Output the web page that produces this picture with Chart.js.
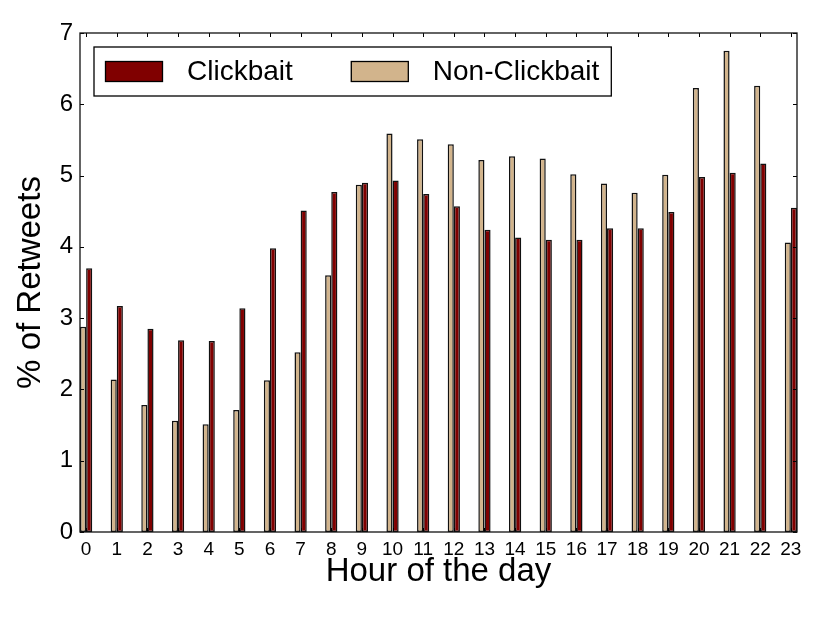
<!DOCTYPE html>
<html>
<head>
<meta charset="utf-8">
<script src="https://cdn.jsdelivr.net/npm/chart.js@4"></script>
<style>
  html, body { margin: 0; padding: 0; background: #fff; }
  #wrap { width: 822px; height: 617px; }
</style>
</head>
<body>
<div id="wrap"><canvas id="retweetChart" width="822" height="617"></canvas></div>
<script>
// --- Data ---
const hours = [0, 1, 2, 3, 4, 5, 6, 7, 8, 9, 10, 11, 12, 13, 14, 15, 16, 17, 18, 19, 20, 21, 22, 23];
const clickbait = [3.70, 3.17, 2.85, 2.69, 2.68, 3.14, 3.98, 4.51, 4.77, 4.90, 4.93, 4.74,
                   4.57, 4.24, 4.13, 4.10, 4.10, 4.26, 4.26, 4.49, 4.98, 5.04, 5.17, 4.55];
const nonClickbait = [2.88, 2.14, 1.78, 1.56, 1.51, 1.71, 2.13, 2.52, 3.60, 4.87, 5.59, 5.51,
                      5.44, 5.22, 5.27, 5.24, 5.02, 4.89, 4.76, 5.01, 6.23, 6.75, 6.26, 4.06];
const yTicks = [0, 1, 2, 3, 4, 5, 6, 7];

const FONT = "'Liberation Sans', Arial, Helvetica, sans-serif";
const RED = '#800000';
const TAN = '#d2b48c';

// matplotlib-like frame, inward ticks and in-plot legend
const framePlugin = {
    id: 'frame',
    afterDatasetsDraw(chart) {
        const { ctx, chartArea: a, scales } = chart;
        ctx.save();
        ctx.strokeStyle = '#000';
        ctx.lineWidth = 1;
        const len = 4;
        ctx.beginPath();
        hours.forEach(h => {
            const px = Math.round(scales.x.getPixelForValue(h)) + 0.5;
            ctx.moveTo(px, a.bottom); ctx.lineTo(px, a.bottom - len);
            ctx.moveTo(px, a.top); ctx.lineTo(px, a.top + len);
        });
        yTicks.forEach(v => {
            const py = Math.round(scales.y.getPixelForValue(v)) + 0.5;
            ctx.moveTo(a.left, py); ctx.lineTo(a.left + len, py);
            ctx.moveTo(a.right, py); ctx.lineTo(a.right - len, py);
        });
        ctx.stroke();

        // frame
        ctx.lineWidth = 1.3;
        ctx.strokeStyle = '#111';
        ctx.strokeRect(a.left, a.top, a.right - a.left, a.bottom - a.top);

        // legend (Clickbait first, like the figure)
        const items = chart.data.datasets.slice().reverse();
        ctx.font = '28px ' + FONT;
        const boxX = a.left + 14, boxY = a.top + 14;
        const swW = 58, swH = 21, padL = 11, gapText = 24, gapCol = 58, padR = 12, boxH = 49;
        let x = boxX + padL;
        const midY = boxY + boxH / 2;
        items.forEach((ds, i) => {
            ctx.fillStyle = ds.backgroundColor;
            ctx.fillRect(x, midY - swH / 2, swW, swH);
            ctx.lineWidth = 1.3;
            ctx.strokeStyle = '#000';
            ctx.strokeRect(x + 0.5, midY - swH / 2 + 0.5, swW - 1, swH - 1);
            x += swW + gapText;
            ctx.fillStyle = '#000';
            ctx.textBaseline = 'middle';
            ctx.textAlign = 'left';
            ctx.fillText(ds.label, x, midY + 1);
            x += ctx.measureText(ds.label).width;
            if (i < items.length - 1) x += gapCol;
        });
        const boxW = x + padR - boxX;
        ctx.lineWidth = 1.3;
        ctx.strokeStyle = '#000';
        ctx.strokeRect(boxX, boxY, boxW, boxH);
        ctx.restore();
    }
};

const ctx = document.getElementById('retweetChart').getContext('2d');

new Chart(ctx, {
    type: 'bar',
    data: {
        datasets: [
            {
                label: 'Non-Clickbait',
                data: hours.map((h, i) => ({ x: h, y: nonClickbait[i] })),
                backgroundColor: TAN,
                borderColor: '#111',
                borderWidth: 1.5,
                borderSkipped: false
            },
            {
                label: 'Clickbait',
                data: hours.map((h, i) => ({ x: h, y: clickbait[i] })),
                backgroundColor: RED,
                borderColor: '#111',
                borderWidth: 1.5,
                borderSkipped: false
            }
        ]
    },
    options: {
        responsive: false,
        animation: false,
        devicePixelRatio: 1,
        categoryPercentage: 0.4,
        barPercentage: 1,
        layout: { padding: { top: 33, right: 25, left: 0, bottom: 0 } },
        plugins: {
            legend: { display: false },
            tooltip: { enabled: false }
        },
        scales: {
            x: {
                type: 'linear',
                offset: false,
                min: -0.2,
                max: 23.2,
                afterBuildTicks: scale => { scale.ticks = hours.map(h => ({ value: h })); },
                afterFit: scale => { scale.height = 85; },
                grid: { display: false, drawTicks: false },
                border: { display: false },
                ticks: {
                    color: '#000',
                    padding: 6,
                    maxRotation: 0,
                    autoSkip: false,
                    font: { family: FONT, size: 19 },
                    callback: v => String(v)
                },
                title: {
                    display: true,
                    text: 'Hour of the day',
                    color: '#000',
                    font: { family: FONT, size: 33 },
                    padding: { top: 0, bottom: 25.5 }
                }
            },
            y: {
                min: 0,
                max: 7,
                afterBuildTicks: scale => { scale.ticks = yTicks.map(v => ({ value: v })); },
                afterFit: scale => { scale.width = 80; },
                grid: { display: false, drawTicks: false },
                border: { display: false },
                ticks: {
                    color: '#000',
                    padding: 7,
                    font: { family: FONT, size: 24 },
                    callback: v => String(v)
                },
                title: {
                    display: true,
                    text: '% of Retweets',
                    color: '#000',
                    font: { family: FONT, size: 33 },
                    padding: { top: 11.5, bottom: 0 }
                }
            }
        }
    },
    plugins: [framePlugin]
});
</script>
</body>
</html>
